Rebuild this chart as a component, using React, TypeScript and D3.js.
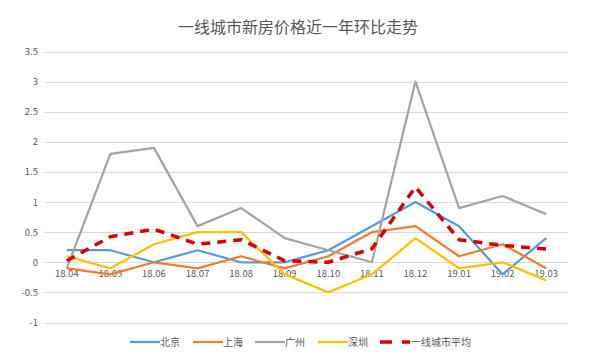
import React, { useEffect, useRef } from "react";
import * as d3 from "d3";

const categories = ["18.04", "18.05", "18.06", "18.07", "18.08", "18.09", "18.10", "18.11", "18.12", "19.01", "19.02", "19.03"];
const beijing = [0.2, 0.2, 0, 0.2, 0, 0, 0.2, 0.6, 1.0, 0.6, -0.2, 0.4];
const shanghai = [-0.1, -0.2, 0, -0.1, 0.1, -0.1, 0.1, 0.5, 0.6, 0.1, 0.3, -0.1];
const guangzhou = [-0.1, 1.8, 1.9, 0.6, 0.9, 0.4, 0.2, 0, 3.0, 0.9, 1.1, 0.8];
const shenzhen = [0.1, -0.1, 0.3, 0.5, 0.5, -0.2, -0.5, -0.2, 0.4, -0.1, 0, -0.3];
const average = [0.025, 0.425, 0.55, 0.3, 0.375, 0.025, 0, 0.225, 1.25, 0.375, 0.28, 0.22];
const yTicks = [-1, -0.5, 0, 0.5, 1, 1.5, 2, 2.5, 3, 3.5];

const series = [
  { name: "北京", values: beijing, color: "#5B9BD5", dash: null },
  { name: "上海", values: shanghai, color: "#ED7D31", dash: null },
  { name: "广州", values: guangzhou, color: "#A5A5A5", dash: null },
  { name: "深圳", values: shenzhen, color: "#FFC000", dash: null },
  { name: "一线城市平均", values: average, color: "#D80000", dash: "9,7" },
];

export default function App() {
  const ref = useRef<SVGSVGElement>(null);
  useEffect(() => {
    const svg = d3.select(ref.current);
    svg.selectAll("*").remove();
    const W = 595, H = 360;
    const left = 45, right = 568, top = 51.5, bottom = 322.5;
    const x = d3.scaleBand().domain(categories).range([left, right]);
    const y = d3.scaleLinear().domain([-1, 3.5]).range([bottom, top]);
    const font = "'Microsoft YaHei', 'Noto Sans CJK SC', 'Noto Sans', sans-serif";

    svg.append("rect").attr("width", W).attr("height", H).attr("fill", "#fff");

    svg.append("text").attr("x", 298).attr("y", 33).attr("text-anchor", "middle")
      .attr("font-family", font).attr("font-size", 16).attr("fill", "#595959")
      .text("一线城市新房价格近一年环比走势");

    const g = svg.append("g");
    g.selectAll("line.grid").data(yTicks).enter().append("line")
      .attr("x1", left).attr("x2", right)
      .attr("y1", d => Math.round(y(d)) + 0.5).attr("y2", d => Math.round(y(d)) + 0.5)
      .attr("stroke", "#D9D9D9").attr("stroke-width", 1);

    g.selectAll("text.yl").data(yTicks).enter().append("text")
      .attr("x", 38).attr("y", d => y(d) + 3.5).attr("text-anchor", "end")
      .attr("font-family", font).attr("font-size", 9.5).attr("fill", "#595959")
      .text(d => String(d));

    g.selectAll("text.xl").data(categories).enter().append("text")
      .attr("x", d => (x(d) as number) + x.bandwidth() / 2).attr("y", y(0) + 15)
      .attr("text-anchor", "middle")
      .attr("font-family", font).attr("font-size", 9.5).attr("fill", "#595959")
      .text(d => d);

    const line = d3.line<number>()
      .x((_, i) => (x(categories[i]) as number) + x.bandwidth() / 2)
      .y(d => y(d));

    series.forEach(s => {
      const p = g.append("path").attr("d", line(s.values) as string)
        .attr("fill", "none").attr("stroke", s.color)
        .attr("stroke-width", s.dash ? 3.5 : 2.25)
        .attr("stroke-linejoin", "round");
      if (s.dash) p.attr("stroke-dasharray", s.dash);
    });

    const legendX = [130, 193, 255, 318, 380];
    const lg = svg.append("g");
    series.forEach((s, i) => {
      const lx = legendX[i];
      const l = lg.append("line").attr("x1", lx).attr("x2", lx + 30)
        .attr("y1", 342).attr("y2", 342)
        .attr("stroke", s.color).attr("stroke-width", s.dash ? 3.5 : 2.25);
      if (s.dash) l.attr("stroke-dasharray", "12,10");
      lg.append("text").attr("x", lx + (s.dash ? 31 : 30)).attr("y", 346)
        .attr("font-family", font).attr("font-size", 10).attr("fill", "#595959")
        .text(s.name);
    });
  }, []);
  return (
    <svg ref={ref} width={595} height={360} style={{ position: "absolute", left: 0, top: 0 }} />
  );
}
